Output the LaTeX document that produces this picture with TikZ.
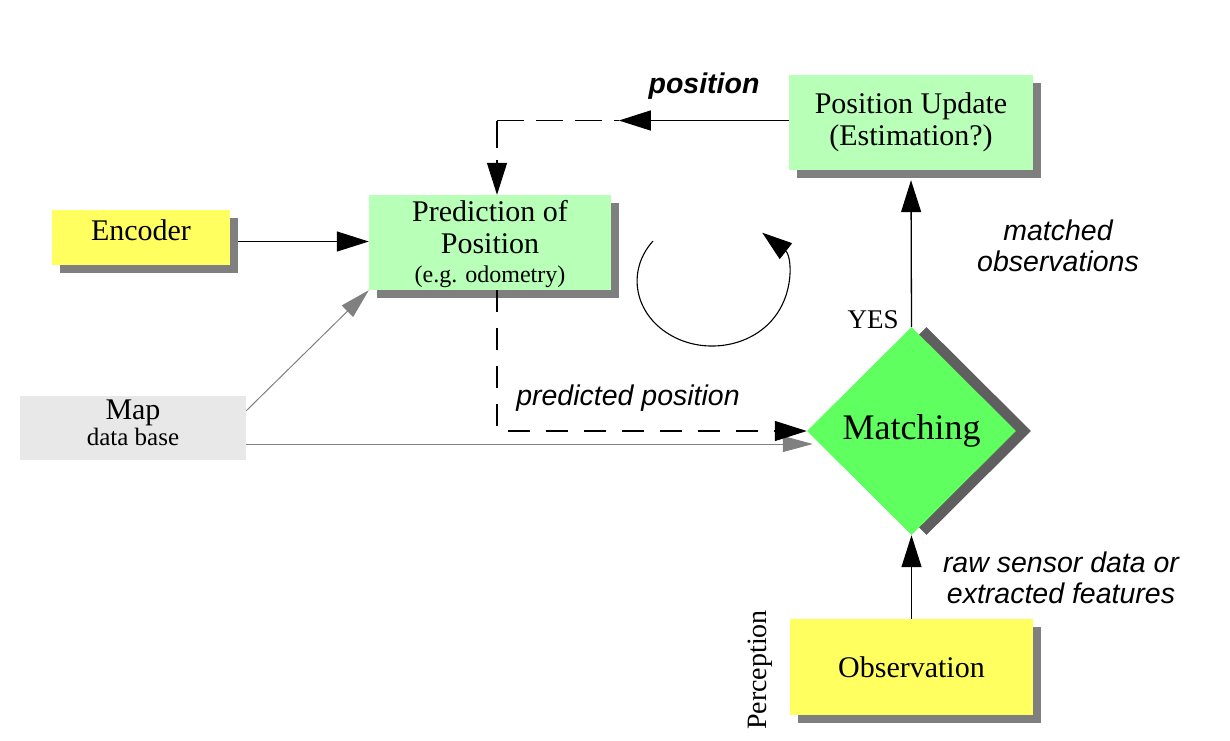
\documentclass[tikz,border=0pt]{standalone}
\usepackage{fontspec}
\setmainfont{Liberation Serif}
\setsansfont{Liberation Sans}
\usetikzlibrary{arrows.meta,shapes.geometric,shadows,calc}
\definecolor{yel}{HTML}{FFFF5F}
\definecolor{lgreen}{HTML}{B8FFB8}
\definecolor{dgreen}{HTML}{5FFF5F}
\definecolor{shad}{HTML}{7F7F7F}
\definecolor{dshad}{HTML}{5F5F5F}
\definecolor{mapgray}{HTML}{E8E8E8}
\definecolor{lgray}{HTML}{808080}
\begin{document}
\begin{tikzpicture}[x=1pt,y=-1pt,
  box/.style={rectangle, inner sep=0pt, align=center,
    font=\fontsize{30}{32}\selectfont,
    drop shadow={shadow xshift=8pt, shadow yshift=-8pt, opacity=1, fill=shad}},
  arr/.style={line width=1.3pt, -{Triangle[length=32pt,width=20pt]}},
  garr/.style={line width=1pt, draw=lgray, -{Triangle[length=30pt,width=16pt]}, lgray},
  dsh/.style={dash pattern=on 22pt off 16pt},
  dshtop/.style={dash pattern=on 27pt off 12pt},
  lab/.style={font=\sffamily\itshape\fontsize{28.5}{31}\selectfont, align=center},
  serif/.style={font=\fontsize{27}{30}\selectfont}
]
\useasboundingbox (0,0) rectangle (1230,740);

% nodes
\node[box, fill=yel, minimum width=178pt, minimum height=55pt] (enc) at (141,237.5) {\raisebox{15pt}{Encoder}};
\node[box, fill=lgreen, minimum width=242pt, minimum height=95pt] (pred) at (490,242.5)
  {\rule{0pt}{25pt}Prediction of\\Position\\[-3pt]{\fontsize{24}{26}\selectfont (e.g. odometry)}};
\node[box, fill=lgreen, minimum width=244pt, minimum height=95pt] (pu) at (911,122.5)
  {Position Update\\(Estimation?)};
\node[rectangle, fill=mapgray, minimum width=226pt, minimum height=64pt, inner sep=0pt] (map) at (133,428) {};
\node[align=center, inner sep=0pt, font=\fontsize{30}{30}\selectfont] (maptext) at (133,423)
  {Map\\[-4pt]{\fontsize{25}{26}\selectfont data base}};
\node[box, fill=yel, minimum width=243pt, minimum height=96pt] (obs) at (911.5,667) {\raisebox{-4pt}{Observation}};
\node[diamond, aspect=1, fill=dgreen, minimum width=209pt, minimum height=208pt, inner sep=0pt,
  font=\fontsize{36}{40}\selectfont,
  drop shadow={shadow xshift=15pt, shadow yshift=0pt, opacity=1, fill=dshad}] (match) at (911.5,431) {\raisebox{-2pt}{Matching}};

% labels
\node[font=\sffamily\bfseries\itshape\fontsize{28.5}{31}\selectfont] (lpos) at (704,86) {position};
\node[lab] (lmatched) at (1058,246) {matched\\observations};
\node[serif] (yes) at (873,320) {YES};
\node[lab] (lpred) at (628,398) {predicted position};
\node[lab] (lraw) at (1061,578) {raw sensor data or\\extracted features};
\node[rotate=90, font=\fontsize{28}{30}\selectfont] (perc) at (760,670) {Perception};

% connectors
\draw[arr] ($(enc.east |- pred.west)+(8,-1)$) -- ($(pred.west)+(0,-1)$);
\draw[garr] ($(map.north east)+(0,15)$) -- (pred.south west);
\coordinate (mapin) at ($(match.west)+(6,13)$);
\draw[garr] (map.east |- mapin) -- (mapin);
\draw[arr, dsh, line width=1.2pt] ($(pred.south)+(7,0)$) |- (match.west);
\coordinate (ptip) at ($(pu.west)+(-170,-2)$);
\draw[arr] ($(pu.west)+(0,-2)$) -- (ptip);
\coordinate (pcorner) at ($(pred.north |- ptip)+(7,0)$);
\draw[dshtop, line width=1.2pt] (pcorner) -- (ptip);
\draw[arr, dshtop, line width=1.2pt] (pcorner) -- ($(pred.north)+(7,0)$);
\draw[arr] (match.north) -- ($(pu.south)+(0,10)$);
\draw[arr] (obs.north) -- (match.south);

% cycle arrow
\coordinate (cyc) at (653,241);
\draw[line width=1.1pt, -{Triangle[length=30pt,width=20pt]}] (cyc)
  arc[start angle=218, end angle=-48, x radius=75, y radius=65];
\end{tikzpicture}
\end{document}
